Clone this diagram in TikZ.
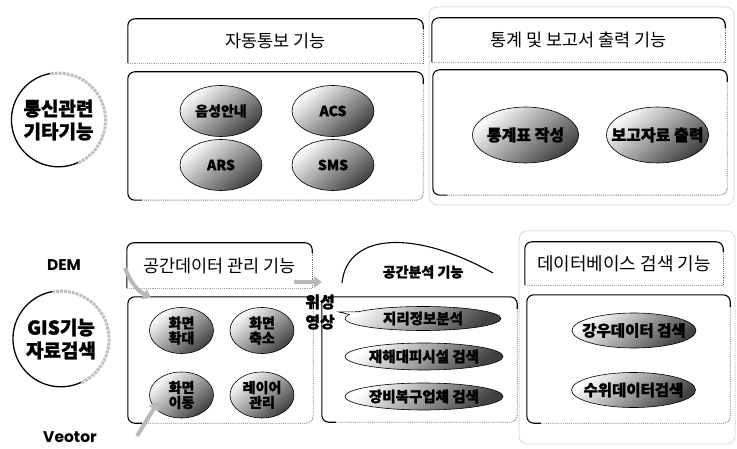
\documentclass[tikz,border=0pt]{standalone}
\usepackage{fontspec}
\setmainfont{Noto Sans CJK KR}
\newfontfamily\krh[FakeBold=1.3]{Noto Sans CJK KR}
\newfontfamily\geo{Poppins}
\usetikzlibrary{shapes.geometric,shapes.callouts,arrows.meta}
\newcommand\zw[1]{\makebox[0pt]{#1}}
\newcommand\mkbox[1]{%
  \draw[solidedge] ([xshift=14pt]#1.south west) -- (#1.south west) -- (#1.north west) -- (#1.north east) -- ([yshift=-12pt]#1.north east);
  \draw[dotedge] ([yshift=-12pt]#1.north east) -- (#1.south east) -- ([xshift=14pt]#1.south west);}
\newcommand\mkhdr[1]{%
  \draw[solidedge] (#1.south west) -- (#1.north west) -- (#1.north east) -- ([yshift=-10pt]#1.north east);
  \draw[dotedge] ([yshift=-10pt]#1.north east) -- (#1.south east);
  \draw[dotedge,draw=black!35] (#1.south west) -- (#1.south east);}
\begin{document}
\begin{tikzpicture}[x=1pt,y=1pt,
 solidedge/.style={draw=black,line width=1.1pt,rounded corners=7pt},
 dotedge/.style={draw=black!55,line width=0.9pt,densely dotted,rounded corners=7pt},
 hdr/.style={inner sep=0pt,font=\fontsize{17.5}{19}\selectfont},
 area/.style={inner sep=0pt},
 egg/.style={ellipse,draw=black,line width=0.6pt,inner sep=0pt,top color=white,middle color=gray!8,bottom color=black!75,shading angle=40,font=\krh\bfseries\fontsize{14}{15}\selectfont,align=center},
 flat/.style={egg,font=\krh\bfseries\fontsize{14.5}{16}\selectfont},
 ring/.style={circle,inner sep=0pt,align=center,font=\krh\bfseries\fontsize{19}{23}\selectfont},
 garrow/.style={draw=gray!55,line width=4pt,-{Triangle[length=8pt,width=11pt]}},
 outer/.style={draw=gray!45,line width=1pt,densely dotted,rounded corners=8pt},
 latin/.style={font=\geo\bfseries\fontsize{15.5}{18}\selectfont,inner sep=0pt}]
\useasboundingbox (0,0) rectangle (737,448);

% faint outer frames
\draw[outer] (429,243) rectangle (734,441);
\draw[outer] (519,4) rectangle (735,217);

% ---------- top section ----------
\node[hdr,minimum width=295pt,minimum height=44pt] (h1) at (275.5,407) {자동통보 기능};
\mkhdr{h1}
\node[area,minimum width=295pt,minimum height=128pt] (c1) at (275.5,312) {};
\mkbox{c1}
\node[hdr,minimum width=293pt,minimum height=44pt] (h2) at (578.5,408) {통계 및 보고서 출력 기능};
\mkhdr{h2}
\node[area,minimum width=294pt,minimum height=125pt] (c2) at (580,315.5) {};
\mkbox{c2}

\node[ring,minimum size=94pt] (r1) at (58.5,328) {통신관련\\기타기능};
\draw[line width=1.3pt] (r1.100) arc[start angle=100,end angle=295,radius=47pt];
\draw[gray!50,line width=3pt,densely dotted] (r1.295) arc[start angle=-65,end angle=100,radius=47pt];

\node[egg,minimum width=82pt,minimum height=51pt] (e1) at (221,337) {\zw{음성안내}};
\node[egg,minimum width=82pt,minimum height=51pt] (e2) at (333,337) {\zw{ACS}};
\node[egg,minimum width=82pt,minimum height=51pt] (e3) at (221,283) {\zw{ARS}};
\node[egg,minimum width=82pt,minimum height=51pt] (e4) at (333,283) {\zw{SMS}};
\node[egg,font=\krh\bfseries\fontsize{16}{17}\selectfont,minimum width=106pt,minimum height=56pt] (e5) at (525.5,313) {\zw{통계표 작성}};
\node[egg,font=\krh\bfseries\fontsize{16}{17}\selectfont,minimum width=102pt,minimum height=56pt] (e6) at (657.5,313) {\zw{보고자료 출력}};

% ---------- bottom section ----------
\node[latin] (dem) at (64,183) {DEM};
\node[latin] (vec) at (70,11) {Veotor};

\node[ring,minimum size=96pt] (r2) at (61,109) {GIS기능\\자료검색};
\draw[line width=1.3pt] (r2.100) arc[start angle=100,end angle=295,radius=48pt];
\draw[gray!50,line width=3pt,densely dotted] (r2.295) arc[start angle=-65,end angle=100,radius=48pt];

\node[hdr,minimum width=185pt,minimum height=45pt] (h3) at (219.5,182.5) {공간데이터 관리 기능};
\mkhdr{h3}
\node[area,minimum width=185pt,minimum height=126pt] (c3) at (220.5,88) {};
\mkbox{c3}

\node[egg,minimum width=64pt,minimum height=46pt] (m1) at (181.5,117.5) {화면\\확대};
\node[egg,minimum width=64pt,minimum height=46pt] (m2) at (262,117.5) {화면\\축소};
\node[egg,minimum width=64pt,minimum height=46pt] (m3) at (181.5,53) {화면\\이동};
\node[egg,minimum width=64pt,minimum height=46pt] (m4) at (262,53) {레이어\\관리};

\node[font=\krh\bfseries\fontsize{16}{20}\selectfont,align=center,inner sep=0pt] (ws) at (320,136) {위성\\영상};

\node[area,minimum width=195pt,minimum height=125pt] (c4) at (419.5,88.5) {};
\mkbox{c4}
\coordinate (arcL) at (342,165);
\coordinate (arcR) at (493,175);
\draw[line width=1.1pt] (arcL) .. controls (347,214) and (412,220) .. (arcR);
\node[font=\krh\bfseries\fontsize{14}{16}\selectfont,inner sep=0pt] (h5) at (423,176) {공간분석 기능};

\node[flat,ellipse callout,callout absolute pointer={([xshift=4pt]ws.east)},minimum width=156pt,minimum height=24pt] (s1) at (423,129.5) {\zw{지리정보분석}};
\node[flat,minimum width=158pt,minimum height=27pt] (s2) at (424,91.5) {\zw{재해대피시설 검색}};
\node[flat,minimum width=158pt,minimum height=27pt] (s3) at (424,51.5) {\zw{장비복구업체 검색}};

\node[hdr,font=\fontsize{18}{19}\selectfont,minimum width=198pt,minimum height=43pt] (h4) at (624,184.5) {데이터베이스 검색 기능};
\mkhdr{h4}
\node[area,minimum width=203pt,minimum height=128pt] (c5) at (628.5,89) {};
\mkbox{c5}
\node[flat,font=\krh\bfseries\fontsize{15.5}{16}\selectfont,minimum width=124pt,minimum height=35pt] (d1) at (634,117.5) {\zw{강우데이터 검색}};
\node[flat,font=\krh\bfseries\fontsize{15.5}{16}\selectfont,minimum width=124pt,minimum height=35pt] (d2) at (633.5,58) {\zw{수위데이터검색}};

% grey arrows
\coordinate (g1s) at (125,180);
\coordinate (g1e) at (151,150);
\draw[garrow] (g1s) to[bend right=20] (g1e);
\coordinate (g2s) at (294,166);
\coordinate (g2e) at (322,166);
\draw[garrow] (g2s) -- (g2e);
\coordinate (g3s) at (137,12);
\coordinate (g3e) at (158,46);
\draw[garrow] (g3s) -- (g3e);
\end{tikzpicture}
\end{document}
